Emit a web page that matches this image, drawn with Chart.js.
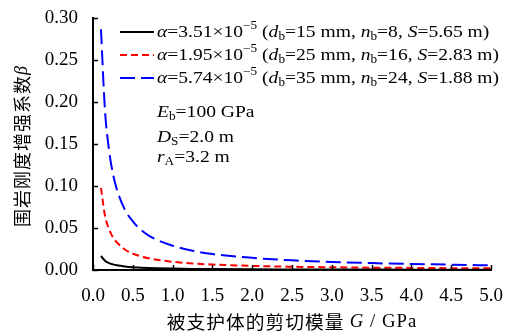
<!DOCTYPE html>
<html>
<head>
<meta charset="utf-8">
<script src="https://cdn.jsdelivr.net/npm/chart.js@4.4.0/dist/chart.umd.min.js"></script>
<style>
  body { margin: 0; background: #fff; }
</style>
</head>
<body>
<canvas id="chart" width="513" height="334"></canvas>
<script>
// shear modulus G (GPa) and stiffness enhancement factor for each bolt layout
const gValues = [0.1, 0.15, 0.2, 0.25, 0.3, 0.4, 0.5, 0.6, 0.7, 0.8, 1.0, 1.25, 1.5, 2.0, 2.5, 3.0, 3.5, 4.0, 4.5, 5.0];
const betaBlack = [0.0167, 0.0111, 0.0083, 0.0067, 0.0056, 0.0042, 0.0033, 0.0028, 0.0024, 0.0021, 0.0017, 0.0013, 0.0011, 0.0008, 0.0007, 0.0006, 0.0005, 0.0004, 0.0004, 0.0003];
const betaRed = [0.098, 0.065, 0.049, 0.039, 0.033, 0.0245, 0.0196, 0.0163, 0.014, 0.0123, 0.0098, 0.0078, 0.0065, 0.0049, 0.0039, 0.0033, 0.0028, 0.0025, 0.0022, 0.002];
const betaBlue = [0.287, 0.191, 0.144, 0.115, 0.096, 0.072, 0.058, 0.048, 0.041, 0.036, 0.029, 0.023, 0.019, 0.0145, 0.0115, 0.0096, 0.0082, 0.0072, 0.0064, 0.0055];

// legend parameters
const alphaValues = ['3.51', '1.95', '5.74'];
const boltDiameter = ['15', '25', '35'];
const boltCount = ['8', '16', '24'];
const boltSpacing = ['5.65', '2.83', '1.88'];

const lineColors = ['#000000', '#ff0000', '#0000ff'];
const lineDashes = [[], [7, 4], [15, 6]];

const SERIF = '"Liberation Serif", "Times New Roman", serif';
const CJK = '"Noto Sans CJK SC", sans-serif';

function toPoints(ys) {
  return gValues.map((g, i) => ({ x: g, y: ys[i] }));
}

function setFont(ctx, p, size) {
  const fs = (p.sub || p.sup) ? size * 0.68 : size;
  ctx.font = (p.it ? 'italic ' : '') + fs + 'px ' + (p.cjk ? CJK : SERIF);
}

// draws a run of text pieces with italics / sub / superscripts, sx = horizontal stretch
function drawRich(ctx, x, y, parts, size, sx = 1) {
  for (const p of parts) {
    let dy = 0;
    if (p.sub) dy = size * 0.22;
    if (p.sup) dy = -size * 0.4;
    setFont(ctx, p, size);
    ctx.save();
    ctx.translate(x, y + dy);
    ctx.scale(sx, 1);
    ctx.fillText(p.t, 0, 0);
    ctx.restore();
    x += ctx.measureText(p.t).width * sx;
  }
  return x;
}

function richWidth(ctx, parts, size, sx = 1) {
  let w = 0;
  for (const p of parts) {
    setFont(ctx, p, size);
    w += ctx.measureText(p.t).width * sx;
  }
  return w;
}

const decorations = {
  id: 'decorations',
  afterDraw(chart) {
    const ctx = chart.ctx;
    const xs = chart.scales.x, ys = chart.scales.y;
    const area = chart.chartArea;
    ctx.save();

    // inward tick marks
    ctx.strokeStyle = '#000';
    ctx.lineWidth = 1.5;
    ctx.setLineDash([]);
    xs.ticks.forEach(t => {
      const px = Math.round(xs.getPixelForValue(t.value)) + 0.5;
      ctx.beginPath();
      ctx.moveTo(px, area.bottom);
      ctx.lineTo(px, area.bottom - 5);
      ctx.stroke();
    });
    ys.ticks.forEach(t => {
      const py = Math.round(ys.getPixelForValue(t.value)) + 0.5;
      ctx.beginPath();
      ctx.moveTo(area.left, py);
      ctx.lineTo(area.left + 5, py);
      ctx.stroke();
    });

    // legend
    ctx.fillStyle = '#000';
    ctx.textBaseline = 'middle';
    const legendY = [32, 55, 78];
    for (let i = 0; i < 3; i++) {
      const y = legendY[i];
      ctx.strokeStyle = lineColors[i];
      ctx.lineWidth = 2;
      ctx.setLineDash(lineDashes[i]);
      ctx.beginPath();
      ctx.moveTo(120, y);
      ctx.lineTo(154, y);
      ctx.stroke();
      ctx.setLineDash([]);
      drawRich(ctx, 157, y + 1, [
        { t: 'α', it: true }, { t: '=' + alphaValues[i] + '×10' }, { t: '−5', sup: true },
        { t: ' (' }, { t: 'd', it: true }, { t: 'b', sub: true }, { t: '=' + boltDiameter[i] + ' mm, ' },
        { t: 'n', it: true }, { t: 'b', sub: true }, { t: '=' + boltCount[i] + ', ' },
        { t: 'S', it: true }, { t: '=' + boltSpacing[i] + ' m)' }
      ], 17, 1.15);
    }

    // parameter notes
    drawRich(ctx, 157, 113, [{ t: 'E', it: true }, { t: 'b', sub: true }, { t: '=100 GPa' }], 17, 1.15);
    drawRich(ctx, 157, 138, [{ t: 'D', it: true }, { t: 'S', sub: true }, { t: '=2.0 m' }], 17, 1.15);
    drawRich(ctx, 157, 158, [{ t: 'r', it: true }, { t: 'A', sub: true }, { t: '=3.2 m' }], 17, 1.15);

    // x axis title
    ctx.letterSpacing = '1px';
    const xParts = [{ t: '被支护体的剪切模量 ', cjk: true }, { t: 'G', it: true }, { t: ' / GPa' }];
    const xw = richWidth(ctx, xParts, 18, 1.04);
    drawRich(ctx, 292 - xw / 2, 322, xParts, 18, 1.04);

    // y axis title
    ctx.save();
    ctx.translate(22, 146);
    ctx.rotate(-Math.PI / 2);
    const yParts = [{ t: '围岩刚度增强系数', cjk: true }, { t: 'β', it: true }];
    const yw = richWidth(ctx, yParts, 18);
    drawRich(ctx, -yw / 2, 0, yParts, 18);
    ctx.restore();

    ctx.restore();
  }
};

const datasets = [betaBlack, betaRed, betaBlue].map((ys, i) => ({
  label: 'α=' + alphaValues[i],
  data: toPoints(ys),
  borderColor: lineColors[i],
  borderDash: lineDashes[i],
  borderWidth: 2,
  pointRadius: 0,
  showLine: true,
  fill: false,
  cubicInterpolationMode: 'monotone'
}));

const axisFont = { family: SERIF, size: 19 };

new Chart(document.getElementById('chart'), {
  type: 'scatter',
  data: { datasets },
  options: {
    responsive: false,
    animation: false,
    layout: { padding: { top: 18, right: 22, left: 0, bottom: 0 } },
    plugins: { legend: { display: false }, tooltip: { enabled: false } },
    scales: {
      x: {
        type: 'linear',
        min: 0,
        max: 5,
        grid: { display: false },
        border: { display: true, color: '#000', width: 2 },
        ticks: {
          stepSize: 0.5,
          color: '#000',
          font: axisFont,
          padding: 7,
          maxRotation: 0,
          callback: v => v.toFixed(1)
        },
        afterFit: s => { s.height = 64; }
      },
      y: {
        type: 'linear',
        min: 0,
        max: 0.3,
        grid: { display: false },
        border: { display: true, color: '#000', width: 2 },
        ticks: {
          stepSize: 0.05,
          color: '#000',
          font: axisFont,
          padding: 7,
          callback: v => v.toFixed(2)
        },
        afterFit: s => { s.width = 93; }
      }
    }
  },
  plugins: [decorations]
});
</script>
</body>
</html>
